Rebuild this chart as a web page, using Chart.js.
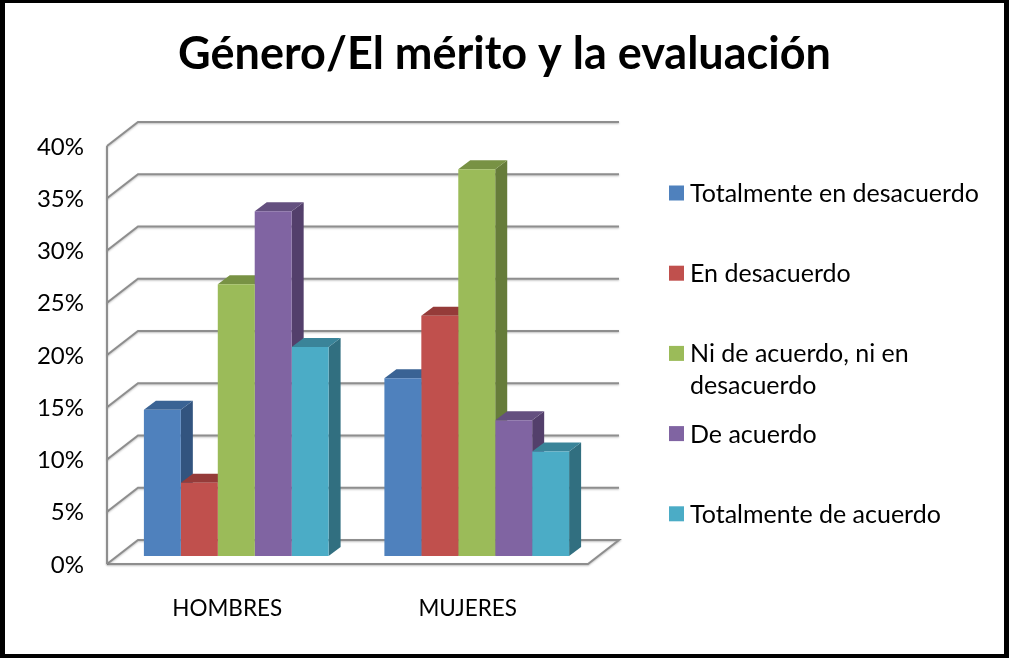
<!DOCTYPE html>
<html lang="es">
<head>
<meta charset="utf-8">
<title>Género/El mérito y la evaluación</title>
<script src="https://cdn.jsdelivr.net/npm/chart.js@4"></script>
<style>
    html, body { margin: 0; padding: 0; background: #fff; }
    canvas { display: block; }
</style>
</head>
<body>
<canvas id="chart" width="1009" height="658"></canvas>
<script>
// Chart data
const categories = ['HOMBRES', 'MUJERES'];
const seriesNames = ['Totalmente en desacuerdo', 'En desacuerdo', 'Ni de acuerdo, ni en desacuerdo', 'De acuerdo', 'Totalmente de acuerdo'];
const totalmenteDesacuerdo = [14, 17];
const enDesacuerdo = [7, 23];
const niDeAcuerdo = [26, 37];
const deAcuerdo = [33, 13];
const totalmenteAcuerdo = [20, 10];

// Face colours of the 3D bars
const frontColors = ['#4f81bd', '#c0504d', '#9bbb59', '#8064a2', '#4bacc6'];
const sideColors = ['#32547f', '#7f3331', '#667c3a', '#533f6b', '#316f80'];
const topColors = ['#3a6394', '#953b39', '#789244', '#64507f', '#3a8499'];

const FONT = 'Lato, Carlito, sans-serif';
const GRID_COLOR = '#8e8e8e';

// Depth of the bars, and of the walls relative to the plane the bars stand on
const barDepth = { x: 12, y: -9 };
const frontOffset = { x: -9, y: 8 };
const backOffset = { x: 22, y: -16 };

// Outer frame
const framePlugin = {
    id: 'frame',
    afterLayout(chart) {
        // centre the title over the whole picture, not only the plot side
        chart.titleBlock.left = 0;
        chart.titleBlock.right = chart.width;
    },
    beforeDraw(chart) {
        const ctx = chart.ctx;
        ctx.fillStyle = '#000';
        ctx.fillRect(0, 0, chart.width, chart.height);
        ctx.fillStyle = '#fff';
        ctx.fillRect(5, 3, chart.width - 10, chart.height - 7);
    }
};

// Floor, side wall and gridlines, built from the value scale
const wallsPlugin = {
    id: 'walls',
    beforeDatasetsDraw(chart) {
        const { ctx, chartArea, scales } = chart;
        const y = scales.y;
        const left = chartArea.left;
        const right = chartArea.right;

        ctx.save();
        ctx.strokeStyle = GRID_COLOR;
        ctx.lineWidth = 2;
        ctx.lineJoin = 'miter';
        ctx.shadowColor = 'rgba(0, 0, 0, 0.25)';
        ctx.shadowBlur = 2;
        ctx.shadowOffsetY = 1;

        y.ticks.forEach((tick) => {
            const py = y.getPixelForValue(tick.value);
            ctx.beginPath();
            ctx.moveTo(left + frontOffset.x, py + frontOffset.y);
            ctx.lineTo(left + backOffset.x, py + backOffset.y);
            ctx.lineTo(right + backOffset.x, py + backOffset.y);
            if (tick.value === 0) {
                ctx.lineTo(right + frontOffset.x, py + frontOffset.y);
                ctx.lineTo(left + frontOffset.x, py + frontOffset.y);
            }
            ctx.stroke();
        });

        ctx.beginPath();
        ctx.moveTo(left + frontOffset.x, y.getPixelForValue(y.max) + frontOffset.y);
        ctx.lineTo(left + frontOffset.x, y.getPixelForValue(0) + frontOffset.y);
        ctx.stroke();
        ctx.restore();
    }
};

// Side and top faces of each bar; the front face is the library's own bar
const barSidesPlugin = {
    id: 'barSides',
    beforeDatasetsDraw(chart) {
        const ctx = chart.ctx;
        categories.forEach((_, catIndex) => {
            chart.data.datasets.forEach((dataset, i) => {
                const bar = chart.getDatasetMeta(i).data[catIndex];
                const l = bar.x - bar.width / 2;
                const r = bar.x + bar.width / 2;

                ctx.fillStyle = sideColors[i];
                ctx.beginPath();
                ctx.moveTo(r, bar.y);
                ctx.lineTo(r + barDepth.x, bar.y + barDepth.y);
                ctx.lineTo(r + barDepth.x, bar.base + barDepth.y);
                ctx.lineTo(r, bar.base);
                ctx.closePath();
                ctx.fill();

                ctx.fillStyle = topColors[i];
                ctx.beginPath();
                ctx.moveTo(l, bar.y);
                ctx.lineTo(l + barDepth.x, bar.y + barDepth.y);
                ctx.lineTo(r + barDepth.x, bar.y + barDepth.y);
                ctx.lineTo(r, bar.y);
                ctx.closePath();
                ctx.fill();
            });
        });
    }
};

// Legend to the right of the plot, evenly spaced, wrapping the long entry
const sideLegendPlugin = {
    id: 'sideLegend',
    afterDraw(chart) {
        const ctx = chart.ctx;
        const boxX = 669;
        const textX = 690;
        const maxWidth = 300;
        const firstY = 194;
        const rowStep = 80.2;
        const lineHeight = 32;

        ctx.save();
        ctx.font = `25px ${FONT}`;
        ctx.textBaseline = 'middle';
        ctx.textAlign = 'left';
        chart.data.datasets.forEach((dataset, i) => {
            const y = firstY + i * rowStep;
            ctx.fillStyle = frontColors[i];
            ctx.fillRect(boxX, y - 8.5, 15, 15);

            // wrap on words
            const lines = [];
            let line = '';
            dataset.label.split(' ').forEach((word) => {
                const test = line ? `${line} ${word}` : word;
                if (ctx.measureText(test).width > maxWidth) {
                    lines.push(line);
                    line = word;
                } else {
                    line = test;
                }
            });
            lines.push(line);

            ctx.fillStyle = '#000';
            lines.forEach((text, n) => ctx.fillText(text, textX, y + n * lineHeight));
        });
        ctx.restore();
    }
};

const seriesValues = [totalmenteDesacuerdo, enDesacuerdo, niDeAcuerdo, deAcuerdo, totalmenteAcuerdo];

const chart = new Chart(document.getElementById('chart'), {
    type: 'bar',
    data: {
        labels: categories,
        datasets: seriesNames.map((name, i) => ({
            label: name,
            data: seriesValues[i],
            backgroundColor: frontColors[i],
            categoryPercentage: 0.768,
            barPercentage: 1
        }))
    },
    plugins: [framePlugin, wallsPlugin, barSidesPlugin, sideLegendPlugin],
    options: {
        responsive: false,
        animation: false,
        layout: { padding: { left: 0, right: 412, top: 0, bottom: 0 } },
        plugins: {
            legend: { display: false },
            tooltip: { enabled: false },
            title: {
                display: true,
                text: 'Género/El mérito y la evaluación',
                color: '#000',
                font: { family: FONT, size: 45, weight: 'bold' },
                padding: { top: 27, bottom: 57 }
            }
        },
        scales: {
            x: {
                grid: { display: false },
                border: { display: false },
                afterFit: (scale) => { scale.height = 102; },
                ticks: {
                    color: '#000',
                    font: { family: FONT, size: 22.5 },
                    padding: 31,
                    labelOffset: -9,
                    maxRotation: 0
                }
            },
            y: {
                min: 0,
                max: 40,
                grid: { display: false },
                border: { display: false },
                afterFit: (scale) => { scale.width = 116; },
                ticks: {
                    stepSize: 5,
                    color: '#000',
                    font: { family: FONT, size: 24 },
                    padding: 24,
                    labelOffset: 9,
                    callback: (value) => `${value}%`
                }
            }
        }
    }
});
</script>
</body>
</html>
